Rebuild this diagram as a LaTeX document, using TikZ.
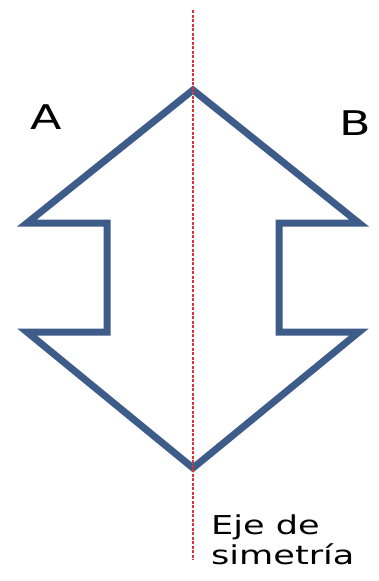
\documentclass[tikz,border=0pt]{standalone}
\usepackage{fontspec}
\usepackage{xcolor}
\usepackage{tikz}
\usetikzlibrary{positioning}
\newfontfamily\labelfont[FakeStretch=1.35]{DejaVu Sans}
\definecolor{accent}{HTML}{3E5C8A}
\definecolor{axis}{HTML}{D8323C}
\tikzset{
  outline/.style={draw=accent,line width=7pt,line join=miter},
  eje/.style={draw=axis,line width=1.5pt,dash pattern=on 3pt off 1.5pt},
  lbl/.style={inner sep=0pt,font=\labelfont\fontsize{34}{38}\selectfont},
  note/.style={inner sep=0pt,align=left,font=\labelfont\fontsize{26}{30}\selectfont},
}
\begin{document}
\begin{tikzpicture}[x=1pt,y=-1pt]
  \useasboundingbox (0,0) rectangle (378,581);
  % figura
  \draw[outline] (193,90) -- (359,223) -- (279,223) -- (279,332) -- (359,332)
    -- (193,468) -- (27,332) -- (107,332) -- (107,223) -- (27,223) -- cycle;
  % eje
  \coordinate (top) at (193,10);
  \coordinate (bot) at (193,560);
  \draw[eje] (top) -- (bot);
  \node[lbl,anchor=base] (a) at (46,129) {A};
  \node[lbl,anchor=base] (b) at (355,135) {B};
  \node[note,anchor=north west] (txt) at (211,515) {Eje de\\simetría};
\end{tikzpicture}
\end{document}
